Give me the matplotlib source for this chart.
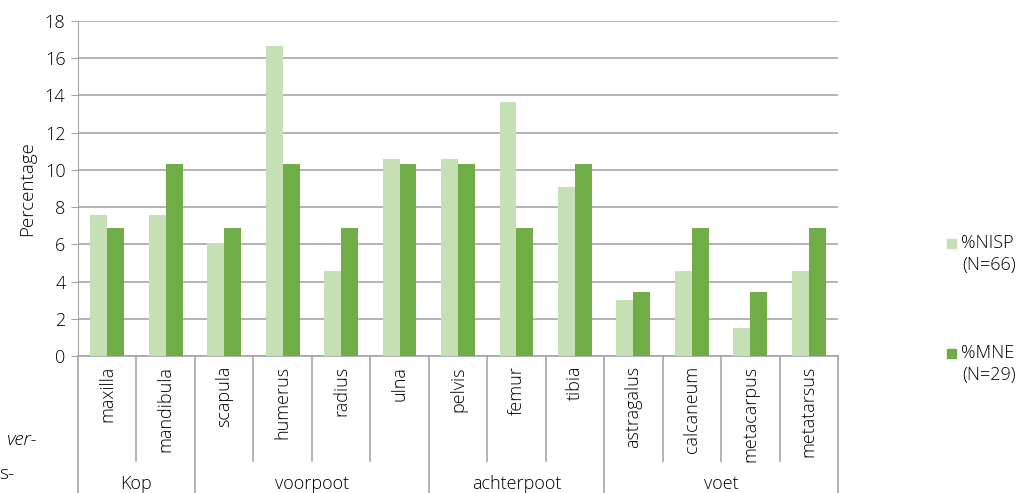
import matplotlib
matplotlib.use('Agg')
import matplotlib.pyplot as plt
import numpy as np

plt.rcParams['font.family'] = ['Open Sans', 'DejaVu Sans']
plt.rcParams['font.weight'] = 'light'
plt.rcParams['axes.labelweight'] = 'light'

# data
elements = ['maxilla', 'mandibula', 'scapula', 'humerus', 'radius', 'ulna',
            'pelvis', 'femur', 'tibia', 'astragalus', 'calcaneum', 'metacarpus', 'metatarsus']
groups = ['Kop', 'voorpoot', 'achterpoot', 'voet']
group_sizes = [2, 4, 3, 4]
nisp = [7.58, 7.58, 6.06, 16.67, 4.55, 10.61, 10.61, 13.64, 9.09, 3.03, 4.55, 1.52, 4.55]
mne = [6.90, 10.34, 6.90, 10.34, 6.90, 10.34, 10.34, 6.90, 10.34, 3.45, 6.90, 3.45, 6.90]
y_ticks = [0, 2, 4, 6, 8, 10, 12, 14, 16, 18]

c_nisp = '#C5E0B4'
c_mne = '#70AD47'
c_grid = '#A6A6A6'
fs = 13

W, H = 1026, 493
fig = plt.figure(figsize=(W / 100, H / 100), dpi=100)
left, right, top, bottom = 78, 838, 21, 356
ax = fig.add_axes([left / W, 1 - bottom / H, (right - left) / W, (bottom - top) / H])

x = np.arange(len(elements))
bw = 0.29
ax.bar(x - bw / 2, nisp, bw, color=c_nisp, zorder=3)
ax.bar(x + bw / 2, mne, bw, color=c_mne, zorder=3)

ax.set_xlim(-0.5, len(elements) - 0.5)
ax.set_ylim(0, 18)
ax.set_yticks(y_ticks)
ax.tick_params(axis='y', length=5, color=c_grid, labelsize=fs, pad=4)
ax.set_xticks([])
ax.yaxis.grid(True, color=c_grid, linewidth=1.2, zorder=0)
for s in ['top', 'right']:
    ax.spines[s].set_visible(False)
ax.spines['left'].set_color(c_grid)
ax.spines['bottom'].set_color(c_grid)
ax.spines['bottom'].set_linewidth(1.2)
ax.set_ylabel('Percentage', fontsize=fs + 0.5, labelpad=6, fontweight='light')

# category axis below the plot
trans = ax.get_xaxis_transform()
ph = bottom - top
y_cat_end = -(461 - bottom) / ph
y_end = -(H - bottom) / ph
y_lab = -(366 - bottom) / ph
y_grp = -(484 - bottom) / ph

for i, name in enumerate(elements):
    ax.text(i, y_lab, name, transform=trans, rotation=90, ha='center', va='top', fontsize=fs)

bounds = np.cumsum([0] + group_sizes)
for b in range(len(elements) + 1):
    yy = y_end if b in bounds else y_cat_end
    ax.plot([b - 0.5, b - 0.5], [0, yy], transform=trans, color=c_grid,
            linewidth=1.2, clip_on=False)

for g, name in enumerate(groups):
    cx = (bounds[g] + bounds[g + 1]) / 2 - 0.5
    ax.text(cx, y_grp, name, transform=trans, ha='center', va='center', fontsize=fs)

# legend
for (lab, n, col, yy) in [('%NISP', '(N=66)', c_nisp, 243), ('%MNE', '(N=29)', c_mne, 353)]:
    fig.patches.append(plt.Rectangle((947 / W, 1 - (yy + 5) / H), 9 / W, 9 / H,
                                     transform=fig.transFigure, color=col))
    fig.text(961 / W, 1 - yy / H, lab, fontsize=fs, va='center', ha='left')
    fig.text(962 / W, 1 - (yy + 22) / H, n, fontsize=fs, va='center', ha='left')

# cropped text fragments from the page
fig.text(37 / W, 1 - 440 / H, 'ver-', fontsize=fs + 1, style='italic', ha='right', va='center')
fig.text(14 / W, 1 - 474 / H, 's-', fontsize=fs + 1, ha='right', va='center')

fig.savefig('out.png', dpi=100)
